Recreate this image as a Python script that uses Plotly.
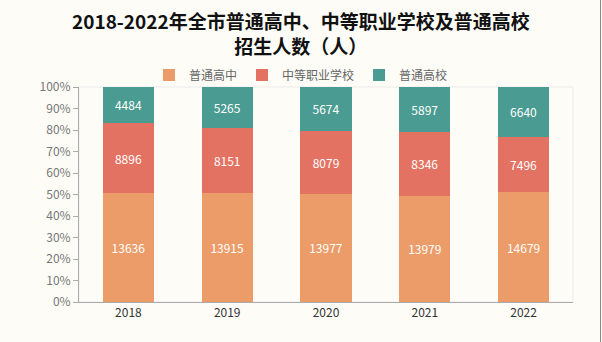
import plotly.graph_objects as go

years = ["2018", "2019", "2020", "2021", "2022"]
series_names = ["普通高中", "中等职业学校", "普通高校"]
putong_gaozhong = [13636, 13915, 13977, 13979, 14679]
zhongzhi = [8896, 8151, 8079, 8346, 7496]
putong_gaoxiao = [4484, 5265, 5674, 5897, 6640]
y_ticks = [0, 10, 20, 30, 40, 50, 60, 70, 80, 90, 100]
title_lines = ["2018-2022年全市普通高中、中等职业学校及普通高校", "招生人数（人）"]

colors = ["#ec9c69", "#e37262", "#4a9b91"]
FONT = "Noto Sans CJK SC"
BG = "#fdfcf7"

fig = go.Figure()
for name, vals, c in zip(series_names, [putong_gaozhong, zhongzhi, putong_gaoxiao], colors):
    fig.add_trace(go.Bar(
        x=years, y=vals, name=name, marker=dict(color=c, line=dict(width=0)),
        text=[str(v) for v in vals], textposition="inside", insidetextanchor="middle",
        textfont=dict(color="white", size=12, family=FONT),
        constraintext="none", cliponaxis=False,
    ))

L, R, T, B, W, H = 79, 29, 87, 40, 602, 342
PLOT_H = H - T - B
PLOT_W = W - L - R
page_center_x = (W / 2 - L) / PLOT_W

annotations = [
    dict(text="<b>" + "<br>".join(title_lines) + "</b>", xref="paper", yref="paper",
         x=page_center_x, xanchor="center", align="center",
         y=(H - B - 33.5) / PLOT_H, yanchor="middle", showarrow=False,
         font=dict(size=19, color="#111", family=FONT)),
]

edge_x = (W - 1.5 - L) / PLOT_W

fig.update_layout(
    width=W, height=H,
    barmode="stack", barnorm="percent", bargap=0.48,
    paper_bgcolor=BG, plot_bgcolor=BG,
    margin=dict(l=L, r=R, t=T, b=B),
    font=dict(family=FONT, size=12, color="#666"),
    annotations=annotations,
    legend=dict(orientation="h", x=page_center_x, xanchor="center", y=(H - B - 75) / PLOT_H,
                yanchor="middle",
                font=dict(size=12, color="#666", family=FONT), bgcolor="rgba(0,0,0,0)",
                itemclick=False, traceorder="normal"),
    showlegend=True,
    xaxis=dict(showline=True, linecolor="#aaa", linewidth=1, ticks="", showgrid=False,
               tickfont=dict(color="#333", size=12), fixedrange=True),
    yaxis=dict(range=[0, 100.0005], tickvals=y_ticks, ticktext=[f"{v}%" for v in y_ticks],
               showline=True, linecolor="#aaa", linewidth=1, ticks="outside", ticklen=5,
               tickcolor="#aaa", showgrid=False, zeroline=False,
               tickfont=dict(color="#777", size=12)),
    shapes=[
        dict(type="rect", xref="paper", yref="paper", x0=0, x1=1, y0=0, y1=1,
             line=dict(color="#ebebeb", width=1), layer="below"),
        dict(type="line", xref="paper", yref="paper", x0=edge_x, x1=edge_x,
             y0=-B / PLOT_H, y1=(H - B) / PLOT_H, line=dict(color="#888", width=1)),
    ],
)
fig.write_html("out.html")
